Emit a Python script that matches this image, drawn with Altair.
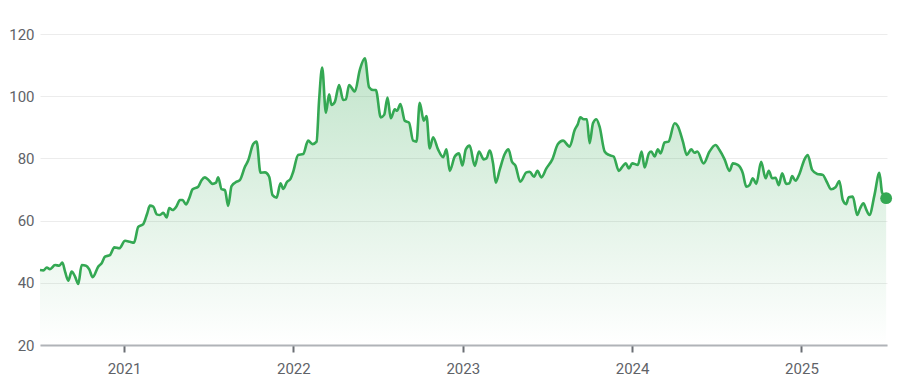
import altair as alt
import pandas as pd

# decimal year of each reading
years = [
    2020.504, 2020.524, 2020.544, 2020.563, 2020.593, 2020.618, 2020.636, 2020.652, 2020.671, 2020.691,
    2020.711, 2020.730, 2020.750, 2020.776, 2020.795, 2020.815, 2020.848, 2020.868, 2020.888, 2020.917,
    2020.943, 2020.972, 2021.006, 2021.035, 2021.059, 2021.084, 2021.114, 2021.137, 2021.153, 2021.173,
    2021.193, 2021.212, 2021.232, 2021.252, 2021.267, 2021.287, 2021.311, 2021.330, 2021.346, 2021.366,
    2021.385, 2021.405, 2021.438, 2021.458, 2021.478, 2021.503, 2021.523, 2021.543, 2021.556, 2021.576,
    2021.596, 2021.615, 2021.635, 2021.665, 2021.684, 2021.714, 2021.733, 2021.763, 2021.783, 2021.806,
    2021.832, 2021.857, 2021.877, 2021.901, 2021.924, 2021.940, 2021.963, 2021.983, 2021.999, 2022.028,
    2022.058, 2022.087, 2022.113, 2022.137, 2022.152, 2022.170, 2022.192, 2022.211, 2022.225, 2022.245,
    2022.270, 2022.294, 2022.310, 2022.329, 2022.363, 2022.392, 2022.422, 2022.447, 2022.471, 2022.487,
    2022.516, 2022.536, 2022.556, 2022.575, 2022.599, 2022.612, 2022.632, 2022.658, 2022.683, 2022.707,
    2022.727, 2022.746, 2022.770, 2022.786, 2022.805, 2022.825, 2022.854, 2022.884, 2022.904, 2022.923,
    2022.953, 2022.978, 2022.998, 2023.018, 2023.041, 2023.071, 2023.096, 2023.124, 2023.140, 2023.159,
    2023.179, 2023.195, 2023.218, 2023.248, 2023.270, 2023.291, 2023.311, 2023.340, 2023.376, 2023.395,
    2023.421, 2023.441, 2023.464, 2023.494, 2023.529, 2023.562, 2023.592, 2023.631, 2023.661, 2023.680,
    2023.694, 2023.714, 2023.733, 2023.749, 2023.769, 2023.789, 2023.808, 2023.838, 2023.863, 2023.891,
    2023.922, 2023.942, 2023.962, 2023.981, 2024.001, 2024.034, 2024.056, 2024.074, 2024.099, 2024.113,
    2024.133, 2024.152, 2024.168, 2024.192, 2024.215, 2024.251, 2024.270, 2024.300, 2024.323, 2024.349,
    2024.369, 2024.385, 2024.422, 2024.457, 2024.493, 2024.516, 2024.546, 2024.575, 2024.595, 2024.624,
    2024.654, 2024.674, 2024.693, 2024.713, 2024.733, 2024.762, 2024.788, 2024.807, 2024.827, 2024.847,
    2024.866, 2024.886, 2024.910, 2024.929, 2024.945, 2024.965, 2024.988, 2025.018, 2025.037, 2025.063,
    2025.093, 2025.126, 2025.149, 2025.175, 2025.201, 2025.224, 2025.244, 2025.264, 2025.279, 2025.303,
    2025.329, 2025.346, 2025.366, 2025.382, 2025.401, 2025.431, 2025.460, 2025.476, 2025.500,
]

prices = [
    44.1, 44.0, 44.9, 44.4, 45.7, 45.5, 46.5, 43.6, 40.7, 43.6,
    42.0, 39.6, 45.7, 45.5, 44.3, 41.8, 45.2, 46.3, 48.4, 48.9,
    51.4, 51.1, 53.5, 53.2, 52.9, 58.0, 58.9, 62.3, 64.8, 64.5,
    62.0, 61.8, 62.5, 61.0, 64.0, 63.4, 64.7, 66.6, 66.6, 65.2,
    67.2, 70.1, 70.9, 73.0, 73.9, 72.8, 71.8, 72.2, 73.9, 70.1,
    69.8, 64.7, 71.1, 72.5, 73.0, 77.3, 79.3, 84.6, 85.4, 75.4,
    75.5, 74.1, 68.2, 67.4, 72.0, 70.2, 72.5, 73.4, 75.7, 81.1,
    81.4, 85.7, 84.6, 85.4, 98.8, 109.2, 94.7, 100.6, 97.2, 98.2,
    103.6, 98.8, 99.0, 103.6, 101.5, 108.4, 112.2, 102.9, 102.0, 102.0,
    93.2, 94.0, 99.6, 92.9, 95.8, 95.3, 97.5, 92.1, 91.5, 85.7,
    85.4, 97.9, 92.1, 93.6, 83.2, 86.8, 82.9, 80.4, 82.9, 76.0,
    80.6, 81.6, 77.7, 82.9, 84.1, 77.6, 82.2, 79.7, 80.0, 82.5,
    78.4, 72.2, 76.3, 81.4, 82.9, 78.9, 77.7, 72.5, 75.5, 75.7,
    74.1, 76.0, 73.9, 76.8, 79.7, 84.6, 85.7, 83.8, 89.1, 91.1,
    93.2, 92.6, 92.6, 84.9, 91.3, 92.6, 90.2, 82.2, 81.1, 80.6,
    76.0, 77.3, 78.4, 76.8, 78.4, 77.9, 82.2, 77.1, 81.6, 82.2,
    80.6, 82.9, 81.6, 85.1, 85.4, 91.3, 90.4, 85.4, 81.1, 82.9,
    81.8, 82.2, 78.4, 82.2, 84.3, 82.7, 79.7, 76.0, 78.4, 77.9,
    75.2, 70.9, 71.4, 73.6, 71.8, 78.9, 73.6, 76.0, 73.6, 73.8,
    71.4, 75.2, 71.8, 72.0, 74.3, 72.8, 75.0, 79.7, 81.1, 76.3,
    75.0, 74.7, 72.5, 70.1, 70.7, 72.7, 66.6, 65.3, 67.5, 67.7,
    61.8, 63.9, 65.6, 63.6, 61.8, 68.2, 75.4, 69.0, 67.2,
]

year_ticks = [2021, 2022, 2023, 2024, 2025]
y_ticks = [20, 40, 60, 80, 100, 120]

GREEN = "#34a853"
FONT = "Roboto"

df = pd.DataFrame({"year": years, "price": prices})
last = df.tail(1)

x_enc = alt.X(
    "year:Q",
    scale=alt.Scale(domain=[2020.504, 2025.505], nice=False, zero=False),
    axis=alt.Axis(
        values=year_ticks, format="d", title=None, grid=False,
        domainColor="#b0b3b8", domainWidth=2,
        tickColor="#6b6f74", tickWidth=2, tickSize=7,
        labelFont=FONT, labelFontSize=15, labelColor="#5f6368", labelPadding=9,
    ),
)
y_enc = alt.Y(
    "price:Q",
    scale=alt.Scale(domain=[20, 120], nice=False, zero=False),
    axis=alt.Axis(
        values=y_ticks, title=None, domain=False, ticks=False,
        gridColor="#ececec", gridWidth=1,
        labelFont=FONT, labelFontSize=15, labelColor="#5f6368", labelPadding=6,
    ),
)

area = alt.Chart(df).mark_area(
    interpolate="monotone",
    color=alt.Gradient(
        gradient="linear",
        stops=[
            alt.GradientStop(color="rgba(52,168,83,0.30)", offset=0),
            alt.GradientStop(color="rgba(52,168,83,0.0)", offset=1),
        ],
        x1=0, x2=0, y1=0, y2=1,
    ),
).encode(x=x_enc, y=y_enc, y2=alt.Y2(datum=20))

line = alt.Chart(df).mark_line(
    interpolate="monotone", color=GREEN, strokeWidth=2.6
).encode(x=x_enc, y=y_enc)

dot = alt.Chart(last).mark_circle(color=GREEN, size=140, opacity=1).encode(x=x_enc, y=y_enc)

chart = (
    alt.layer(area, line, dot)
    .properties(
        width=847, height=311,
        background="white",
        autosize=alt.AutoSizeParams(type="none"),
        padding={"left": 32, "top": 26, "right": 16, "bottom": 37},
    )
    .configure_view(stroke="transparent", strokeWidth=0)
)

chart.save("out.html", embed_options={"renderer": "svg", "actions": False})
